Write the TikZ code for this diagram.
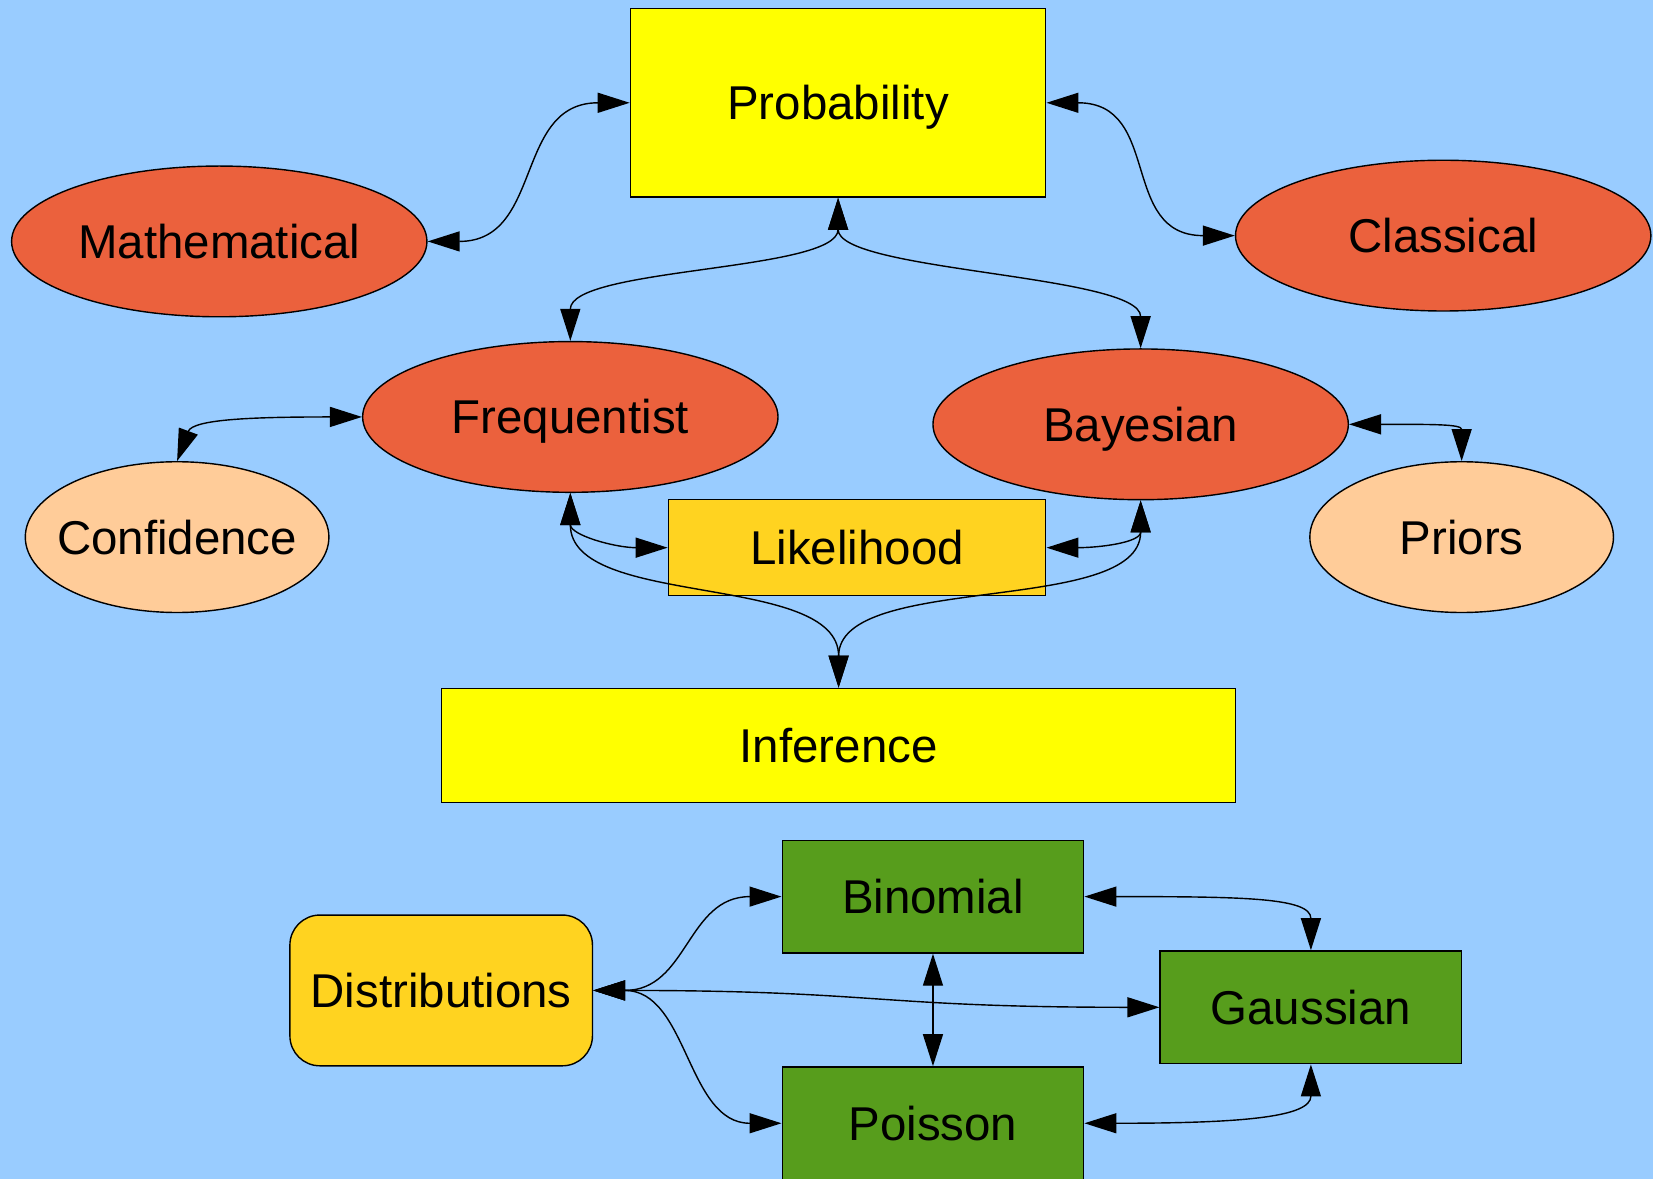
\documentclass[tikz,border=0pt]{standalone}
\usepackage{fontspec}
\setmainfont{Liberation Sans}
\usetikzlibrary{arrows.meta,shapes.geometric}
\definecolor{sky}{HTML}{99CCFF}
\definecolor{brick}{HTML}{EB613D}
\definecolor{peach}{HTML}{FFCC99}
\definecolor{lemon}{HTML}{FFFF00}
\definecolor{gold}{HTML}{FFD320}
\definecolor{leaf}{HTML}{579D1C}
\def\px{0.10542mm}
\begin{document}
\begin{tikzpicture}[x=\px, y=-\px,
  every node/.style={font=\fontsize{13.5}{16}\selectfont, draw=black, line width=0.4pt, text height=3.4mm, text depth=0pt},
  oval/.style={ellipse, inner xsep=-1.5mm, inner ysep=0pt, minimum width=394*\px, minimum height=143*\px, fill=brick},
  smalloval/.style={oval, minimum width=288*\px, fill=peach},
  box/.style={rectangle, inner sep=0pt, fill=lemon},
  dbox/.style={rectangle, inner sep=0pt, minimum width=286*\px, minimum height=107*\px, fill=leaf},
  >={Triangle[length=3.2mm,width=2mm]},
  link/.style={<->, line width=0.4pt}]
\useasboundingbox (0,0) rectangle (1568,1118);
\clip (0,0) rectangle (1568,1118);
\fill[sky] (0,0) rectangle (1568,1118);
\node[box, minimum width=394*\px, minimum height=179*\px] (prob) at (795,97.5){Probability};
\node[oval] (math) at (208,229){Mathematical};
\node[oval] (clas) at (1369,223.5){Classical};
\node[oval] (freq) at (541,395.5){Frequentist};
\node[oval] (bayes) at (1082,402.5){Bayesian};
\node[smalloval] (conf) at (168,509.5){Confidence};
\node[smalloval] (prio) at (1386.5,509.5){Priors};
\node[box, fill=gold, minimum width=358*\px, minimum height=91*\px] (like) at (813,519.5){Likelihood};
\node[box, minimum width=753*\px, minimum height=108*\px] (inf) at (795.5,707){Inference};
\node[box, fill=gold, rounded corners=3mm, minimum width=287*\px, minimum height=143*\px] (dist) at (418.5,939.5){Distributions};
\node[dbox] (binom) at (885,850.5){Binomial};
\node[dbox] (gauss) at (1243.5,955.5){Gaussian};
\node[dbox] (poiss) at (885,1065.5){Poisson};
\draw[link] (math.east) .. controls +(110,0) and +(-110,0) .. (prob.west);
\draw[link] (prob.east) .. controls +(110,0) and +(-110,0) .. (clas.west);
\draw[link] (prob.south) .. controls +(0,70) and +(0,-70) .. (freq.north);
\draw[link] (prob.south) .. controls +(0,70) and +(0,-70) .. (bayes.north);
\draw[link] (conf.north) .. controls +(15,-40) and +(-100,0) .. (freq.west);
\draw[link] (bayes.east) .. controls +(80,0) and +(0,-35) .. (prio.north);
\draw[link] (freq.south) .. controls +(0,40) and +(-50,0) .. (like.west);
\draw[link] (freq.south) .. controls +(0,110) and +(0,-110) .. (inf.north);
\draw[link] (bayes.south) .. controls +(0,40) and +(50,0) .. (like.east);
\draw[link] (bayes.south) .. controls +(0,110) and +(0,-110) .. (inf.north);
\draw[link] (dist.east) .. controls +(90,0) and +(-90,0) .. (binom.west);
\draw[link] (dist.east) .. controls +(90,0) and +(-90,0) .. (poiss.west);
\draw[link] (dist.east) .. controls +(270,0) and +(-270,0) .. (gauss.west);
\draw[link] (binom.south) -- (poiss.north);
\draw[link] (binom.east) .. controls +(150,0) and +(0,-50) .. (gauss.north);
\draw[link] (poiss.east) .. controls +(150,0) and +(0,50) .. (gauss.south);
\end{tikzpicture}
\end{document}
